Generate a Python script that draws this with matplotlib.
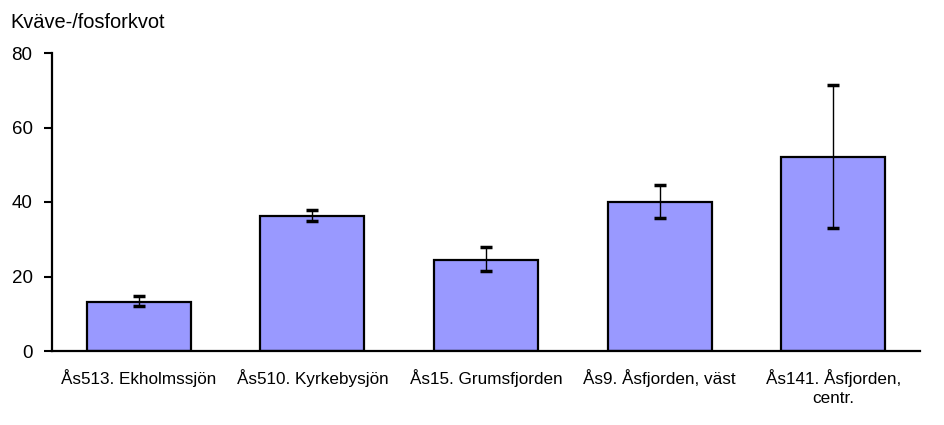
import matplotlib
matplotlib.use('Agg')
import matplotlib.pyplot as plt
import numpy as np

# station names and N/P ratio values
stations = ['Ås513. Ekholmssjön', 'Ås510. Kyrkebysjön', 'Ås15. Grumsfjorden',
            'Ås9. Åsfjorden, väst', 'Ås141. Åsfjorden,\ncentr.']
ratio = [13.2, 36.2, 24.4, 40.0, 52.1]
err_low = [1.1, 1.3, 2.9, 4.3, 19.1]
err_high = [1.6, 1.7, 3.5, 4.6, 19.3]
yticks = [0, 20, 40, 60, 80]

plt.rcParams['font.family'] = ['Liberation Sans', 'DejaVu Sans']

fig = plt.figure(figsize=(9.44, 4.25), dpi=100)
ax = fig.add_axes([52 / 944, 1 - 351 / 425, 868 / 944, 298 / 425])

x = np.arange(len(stations))
ax.bar(x, ratio, width=0.6, color='#9999FF', edgecolor='black', linewidth=1.6, zorder=2)
ax.errorbar(x, ratio, yerr=[err_low, err_high], fmt='none', ecolor='black',
            elinewidth=1, capsize=4.5, capthick=2.5, zorder=3)

ax.set_xlim(-0.5, len(stations) - 0.5)
ax.set_ylim(0, 80)
ax.set_yticks(yticks)
ax.set_xticks(x)
ax.set_xticklabels(stations, fontsize=12.3, linespacing=1.35)
ax.tick_params(axis='x', length=0, pad=13)
ax.tick_params(axis='y', length=6, width=1.5, labelsize=13.5, pad=8)

for s in ['top', 'right']:
    ax.spines[s].set_visible(False)
for s in ['left', 'bottom']:
    ax.spines[s].set_linewidth(1.6)

fig.text(10 / 944, 1 - 22 / 425, 'Kväve-/fosforkvot', fontsize=14.4, va='center', ha='left')

plt.savefig('out.png', dpi=100)
